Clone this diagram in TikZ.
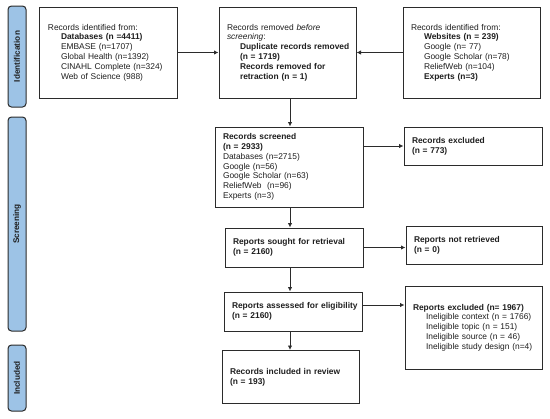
\documentclass[tikz,border=0pt]{standalone}
\usepackage{fontspec}
\setmainfont{Liberation Sans}
\usetikzlibrary{arrows.meta}
\definecolor{barblue}{HTML}{9DC3E6}
\definecolor{edge}{HTML}{2B2B2B}
\definecolor{ink}{HTML}{1E1E1E}
\newcommand{\ind}{\hspace*{13bp}}
\begin{document}
\begin{tikzpicture}[x=1bp,y=-1bp,
  box/.style={draw=edge, line width=1bp, rectangle, inner xsep=8bp, inner ysep=2bp,
    align=left, text=ink, font=\fontsize{8.4bp}{9.8bp}\selectfont},
  bar/.style={draw=edge, fill=barblue, line width=1bp, rounded corners=3.5bp, rectangle,
    inner sep=0pt, rotate=90, minimum height=18bp, text=ink,
    font=\bfseries\fontsize{8.2bp}{9bp}\selectfont},
  arr/.style={draw=edge, line width=1bp, -{Latex[length=4.5bp,width=4.5bp]}}]
\useasboundingbox (0,0) rectangle (550,418);

% phase bars
\node[bar, minimum width=101bp] (bid) at (17,56.5) {Identification};
\node[bar, minimum width=214bp] (bsc) at (17,224) {Screening};
\node[bar, minimum width=66bp] (binc) at (17,378) {Included};

% boxes
\node[box, text width=121bp, minimum height=91bp] (b1) at (108.5,52.5)
  {Records identified from:\\
   \ind\textbf{Databases (n =4411)}\\
   \ind EMBASE (n=1707)\\
   \ind Global Health (n=1392)\\
   \ind\mbox{CINAHL Complete (n=324)}\\
   \ind Web of Science (988)};
\node[box, text width=121bp, minimum height=91bp] (b2) at (287.5,52.5)
  {Records removed \textit{before}\\
   \textit{screening}:\\
   \ind\mbox{\textbf{Duplicate records removed}}\\
   \ind\textbf{(n = 1719)}\\
   \ind\mbox{\textbf{Records removed for}}\\
   \ind\mbox{\textbf{retraction (n = 1)}}};
\node[box, text width=121bp, minimum height=91bp] (b3) at (471.5,52.5)
  {Records identified from:\\
   \ind\mbox{\textbf{Websites (n = 239)}}\\
   \ind Google (n= 77)\\
   \ind\mbox{Google Scholar (n=78)}\\
   \ind ReliefWeb (n=104)\\
   \ind\textbf{Experts (n=3)}};
\node[box, text width=132bp, minimum height=80bp] (sc) at (289,167)
  {\textbf{Records screened}\\
   \textbf{(n = 2933)}\\
   Databases (n=2715)\\
   Google (n=56)\\
   Google Scholar (n=63)\\
   ReliefWeb\ \ (n=96)\\
   Experts (n=3)};
\node[box, text width=122bp, minimum height=38bp] (ex) at (473,146)
  {\textbf{Records excluded}\\
   \textbf{(n = 773)}};
\node[box, text width=122bp, minimum height=39bp] (so) at (294,247.5)
  {\mbox{\textbf{Reports sought for retrieval}}\\
   \textbf{(n = 2160)}};
\node[box, text width=120bp, minimum height=38bp] (nr) at (474,245)
  {\textbf{Reports not retrieved}\\
   \textbf{(n = 0)}};
\node[box, text width=122bp, minimum height=39bp] (as) at (293,311.5)
  {\mbox{\textbf{Reports assessed for eligibility}}\\
   \textbf{(n = 2160)}};
\node[box, text width=121bp, minimum height=83bp] (ex2) at (473.5,327.5)
  {\mbox{\textbf{Reports excluded (n= 1967)}}\\
   \ind\mbox{Ineligible context (n = 1766)}\\
   \ind\mbox{Ineligible topic (n = 151)}\\
   \ind\mbox{Ineligible source (n = 46)}\\
   \ind\mbox{Ineligible study design (n=4)}};
\node[box, text width=121bp, minimum height=53bp] (inc) at (290.5,377)
  {\mbox{\textbf{Records included in review}}\\
   \textbf{(n = 193)}};

% connectors
\coordinate (col) at (290,0);
\draw[arr] (b1.east) -- (b2.west);
\draw[arr] (b3.west) -- (b2.east);
\draw[arr] (col |- b2.south) -- (col |- sc.north);
\draw[arr] (sc.east |- ex.west) -- (ex.west);
\draw[arr] (col |- sc.south) -- (col |- so.north);
\draw[arr] (so.east) -- (so.east -| nr.west);
\draw[arr] (col |- so.south) -- (col |- as.north);
\draw[arr] ([yshift=6.5bp]as.east) -- ([yshift=6.5bp]as.east -| ex2.west);
\draw[arr] (col |- as.south) -- (col |- inc.north);
\end{tikzpicture}
\end{document}
